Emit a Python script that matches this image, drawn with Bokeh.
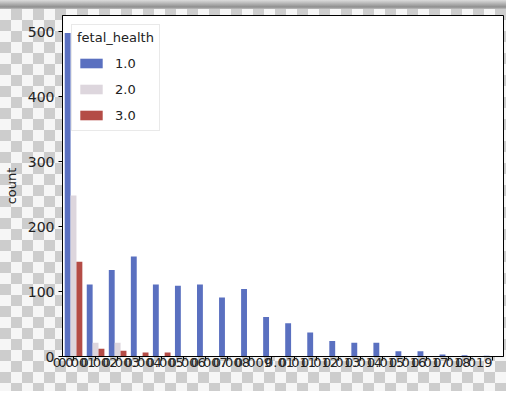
from bokeh.plotting import figure
from bokeh.models import (ColumnDataSource, Legend, LegendItem, FactorRange,
                          Range1d, FixedTicker, Label)
from bokeh.transform import dodge
from bokeh.embed import file_html
from bokeh.resources import INLINE

# ---- data ----
categories = ["0.0", "0.001", "0.002", "0.003", "0.004", "0.005", "0.006",
              "0.007", "0.008", "0.009", "0.01", "0.011", "0.012", "0.013",
              "0.014", "0.015", "0.016", "0.017", "0.018", "0.019"]
health_levels = ["1.0", "2.0", "3.0"]
count_1 = [498, 111, 133, 154, 111, 109, 111, 91, 104, 61, 51, 37, 24, 21,
           21, 8, 8, 3, 2, 1]
count_2 = [248, 21, 21, 0, 0, 0, 0, 0, 0, 0, 0, 0, 0, 0, 0, 0, 0, 0, 0, 0]
count_3 = [146, 12, 9, 6, 6, 0, 0, 0, 0, 0, 0, 0, 0, 0, 0, 0, 0, 0, 0, 0]
y_ticks = [0, 100, 200, 300, 400, 500]

colors = ["#5a70c0", "#ddd6dd", "#b44c46"]
FONT = "DejaVu Sans"

source = ColumnDataSource(dict(cat=categories, c1=count_1, c2=count_2, c3=count_3))

p = figure(x_range=FactorRange(*categories), y_range=Range1d(0, 525),
           width=506, height=391, output_backend="svg", toolbar_location=None,
           min_border_left=59, min_border_right=3, min_border_top=15,
           min_border_bottom=35)

bw = 0.8 / 3
renderers = []
for col, off, color in zip(["c1", "c2", "c3"], [-bw, 0.0, bw], colors):
    r = p.vbar(x=dodge("cat", off, range=p.x_range), top=col, width=bw,
               source=source, fill_color=color, line_color=None)
    renderers.append(r)

# frame / background
p.background_fill_color = "white"
p.border_fill_color = None
p.outline_line_color = "black"
p.outline_line_width = 1
p.outline_line_alpha = 1.0
p.xgrid.visible = False
p.ygrid.visible = False
p.styles = {
    "background": (
        "linear-gradient(to bottom, #dcdcdc 0px, #8e8e8e 7px, #bdbdbd 9px) 0 0 / 100% 9px no-repeat, "
        "repeating-conic-gradient(#cdcdcd 0% 25%, #f6f6f6 0% 50%) 0 9px / 22px 22px"
    )
}

# axes
for ax in (p.xaxis[0], p.yaxis[0]):
    ax.axis_line_color = "black"
    ax.major_tick_line_color = "black"
    ax.major_tick_out = 4
    ax.major_tick_in = 0
    ax.minor_tick_line_color = None
    ax.major_label_text_font = FONT
    ax.major_label_text_font_size = "14px"
    ax.major_label_text_color = "#222222"
    ax.axis_label_text_font = FONT
    ax.axis_label_text_font_style = "normal"
    ax.axis_label_text_color = "#222222"

p.yaxis.ticker = FixedTicker(ticks=y_ticks)
p.yaxis.axis_label = "count"
p.yaxis.axis_label_text_font_size = "13px"
p.yaxis.axis_label_standoff = 6
p.yaxis.major_label_standoff = 4

p.xaxis.major_label_text_font_size = "13px"
p.xaxis.major_label_standoff = 2
p.xaxis.major_label_orientation = 0

# x-axis title, just under the tick labels, at the bottom edge as in the reference
p.add_layout(Label(x=222, y=-21, x_units="screen", y_units="screen",
                   text="accelerations", text_font=FONT, text_font_size="11px",
                   text_color="#222222", text_align="center",
                   text_baseline="top"))

legend = Legend(
    items=[LegendItem(label=lab, renderers=[r]) for lab, r in zip(health_levels, renderers)],
    location="top_left", title="fetal_health",
)
legend.margin = 9
legend.padding = 5
legend.spacing = 6
legend.glyph_width = 28
legend.glyph_height = 12
legend.label_height = 20
legend.label_standoff = 10
legend.title_standoff = 8
legend.label_text_font = FONT
legend.label_text_font_size = "13px"
legend.label_text_color = "#222222"
legend.title_text_font = FONT
legend.title_text_font_size = "13px"
legend.title_text_font_style = "normal"
legend.title_text_color = "#222222"
legend.border_line_color = "#d4d4d4"
legend.background_fill_color = "white"
legend.background_fill_alpha = 0.85
p.add_layout(legend)

open("out.html", "w").write(file_html(p, INLINE))
